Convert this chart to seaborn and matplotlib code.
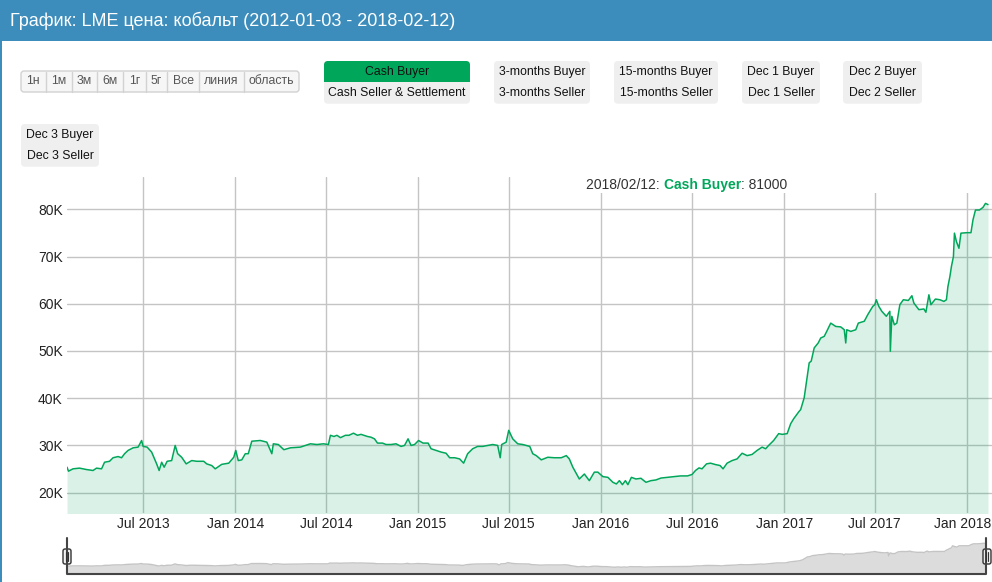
import matplotlib
matplotlib.use("Agg")
import matplotlib.pyplot as plt
import matplotlib.dates as mdates
from matplotlib.patches import Rectangle, FancyBboxPatch
from matplotlib.ticker import FuncFormatter
import pandas as pd
import seaborn as sns

# LME cobalt, cash buyer (USD/t)
dates = [
    "2013-01-30", "2013-02-02", "2013-02-11", "2013-02-24", "2013-03-10", "2013-03-23",
    "2013-03-30", "2013-04-09", "2013-04-15", "2013-04-25", "2013-05-02", "2013-05-12",
    "2013-05-19", "2013-05-25", "2013-06-01", "2013-06-11", "2013-06-21", "2013-06-28",
    "2013-07-01", "2013-07-09", "2013-07-18", "2013-07-28", "2013-08-02", "2013-08-07",
    "2013-08-12", "2013-08-18", "2013-08-27", "2013-09-03", "2013-09-08", "2013-09-16",
    "2013-09-25", "2013-10-06", "2013-10-16", "2013-10-30", "2013-11-05", "2013-11-15",
    "2013-11-22", "2013-12-05", "2013-12-19", "2013-12-29", "2014-01-02", "2014-01-07",
    "2014-01-14", "2014-01-21", "2014-01-27", "2014-02-03", "2014-02-20", "2014-03-05",
    "2014-03-15", "2014-03-18", "2014-03-28", "2014-04-08", "2014-04-21", "2014-05-11",
    "2014-05-31", "2014-06-13", "2014-06-26", "2014-07-06", "2014-07-10", "2014-07-17",
    "2014-07-23", "2014-07-30", "2014-08-09", "2014-08-16", "2014-08-25", "2014-09-02",
    "2014-09-09", "2014-09-15", "2014-09-22", "2014-09-29", "2014-10-06", "2014-10-12",
    "2014-10-22", "2014-10-29", "2014-11-08", "2014-11-18", "2014-11-28", "2014-12-05",
    "2014-12-12", "2014-12-18", "2014-12-25", "2015-01-02", "2015-01-11", "2015-01-21",
    "2015-01-27", "2015-02-06", "2015-02-16", "2015-02-26", "2015-03-05", "2015-03-15",
    "2015-03-25", "2015-04-02", "2015-04-10", "2015-04-20", "2015-04-30", "2015-05-10",
    "2015-05-20", "2015-05-30", "2015-06-09", "2015-06-14", "2015-06-17", "2015-06-26",
    "2015-07-01", "2015-07-09", "2015-07-19", "2015-07-29", "2015-08-12", "2015-08-18",
    "2015-08-25", "2015-09-04", "2015-09-17", "2015-09-30", "2015-10-14", "2015-10-24",
    "2015-10-30", "2015-11-06", "2015-11-19", "2015-11-29", "2015-12-09", "2015-12-19",
    "2015-12-26", "2016-01-05", "2016-01-15", "2016-01-25", "2016-02-01", "2016-02-07",
    "2016-02-13", "2016-02-19", "2016-02-24", "2016-03-02", "2016-03-11", "2016-03-21",
    "2016-03-31", "2016-04-10", "2016-04-20", "2016-04-30", "2016-05-13", "2016-05-26",
    "2016-06-08", "2016-06-22", "2016-07-01", "2016-07-08", "2016-07-15", "2016-07-21",
    "2016-07-30", "2016-08-07", "2016-08-17", "2016-08-26", "2016-09-01", "2016-09-09",
    "2016-09-19", "2016-09-29", "2016-10-09", "2016-10-19", "2016-10-29", "2016-11-08",
    "2016-11-18", "2016-11-25", "2016-12-01", "2016-12-11", "2016-12-21", "2016-12-28",
    "2017-01-07", "2017-01-14", "2017-01-20", "2017-01-30", "2017-02-03", "2017-02-10",
    "2017-02-20", "2017-02-24", "2017-03-02", "2017-03-10", "2017-03-15", "2017-03-22",
    "2017-03-27", "2017-04-04", "2017-04-14", "2017-04-24", "2017-05-01", "2017-05-04",
    "2017-05-06", "2017-05-14", "2017-05-24", "2017-05-29", "2017-06-10", "2017-06-17",
    "2017-06-27", "2017-07-01", "2017-07-04", "2017-07-09", "2017-07-15", "2017-07-24",
    "2017-07-31", "2017-08-01", "2017-08-04", "2017-08-09", "2017-08-14", "2017-08-20",
    "2017-08-27", "2017-09-06", "2017-09-13", "2017-09-17", "2017-09-27", "2017-10-07",
    "2017-10-11", "2017-10-17", "2017-10-21", "2017-10-30", "2017-11-08", "2017-11-16",
    "2017-11-21", "2017-11-24", "2017-11-28", "2017-12-01", "2017-12-05", "2017-12-07",
    "2017-12-11", "2017-12-16", "2017-12-20", "2018-01-01", "2018-01-09", "2018-01-13",
    "2018-01-18", "2018-01-26", "2018-02-02", "2018-02-07", "2018-02-12",
]
cash_buyer = [
    25400, 24550, 25050, 25200, 24900, 24700,
    25200, 25050, 26450, 26650, 27400, 27650,
    27400, 28250, 28950, 29500, 29650, 31050,
    29800, 29650, 28600, 26100, 24700, 26450,
    25400, 26650, 26800, 30000, 28250, 27500,
    26100, 26800, 26650, 26650, 26100, 25750,
    25050, 26000, 26250, 27500, 28950, 26800,
    26950, 28250, 28250, 30900, 31050, 30700,
    28250, 30350, 30200, 29100, 29500, 29650,
    30350, 30200, 30350, 30200, 32150, 31900,
    32150, 31650, 32150, 32150, 32600, 32150,
    32350, 32150, 31900, 31750, 31400, 30500,
    30500, 30200, 30200, 30350, 29800, 30000,
    31400, 30000, 30200, 31050, 30500, 30500,
    29300, 28950, 28600, 28350, 27400, 27400,
    27150, 26250, 28250, 29300, 29800, 29800,
    30000, 30200, 30000, 27400, 30200, 30700,
    33200, 31400, 30350, 30200, 29800, 28250,
    27850, 26950, 27500, 27400, 27400, 27850,
    27150, 25400, 22900, 23950, 22550, 24350,
    24350, 23400, 23250, 22200, 21850, 22550,
    21700, 22550, 21700, 23250, 22900, 23050,
    22200, 22550, 22700, 23100, 23250, 23400,
    23550, 23550, 23850, 24700, 25250, 25050,
    26100, 26250, 25950, 25750, 25050, 26250,
    26800, 27150, 28350, 27850, 28100, 28950,
    29650, 29300, 30000, 31050, 32500, 32350,
    32500, 34600, 35650, 37100, 37600, 40100,
    47500, 47850, 50650, 51700, 52750, 53100,
    54150, 55900, 55200, 55100, 54500, 51700,
    54500, 54150, 54500, 55900, 56300, 57700,
    59450, 59800, 60850, 59450, 58400, 57350,
    58400, 49950, 57350, 55550, 55900, 59800,
    60850, 60700, 61700, 60150, 58750, 58900,
    58200, 61900, 59800, 61000, 60850, 60500,
    60850, 63650, 65800, 67900, 70000, 74950,
    73150, 71750, 74950, 75050, 75050, 77750,
    79850, 79850, 80400, 81250, 81000,
]

title = "График: LME цена: кобальт (2012-01-03 - 2018-02-12)"
range_labels = ["1н", "1м", "3м", "6м", "1г", "5г", "Все", "линия", "область"]
series_buttons = [
    ("Cash Buyer", "Cash Seller & Settlement"),
    ("3-months Buyer", "3-months Seller"),
    ("15-months Buyer", "15-months Seller"),
    ("Dec 1 Buyer", "Dec 1 Seller"),
    ("Dec 2 Buyer", "Dec 2 Seller"),
    ("Dec 3 Buyer", "Dec 3 Seller"),
]
tip_date = "2018/02/12"
tip_series = "Cash Buyer"
tip_value = 81000

GREEN = "#00a65a"
BLUE = "#3c8dbc"
TXT = "#333333"

df = pd.DataFrame({"date": pd.to_datetime(dates), "price": cash_buyer})

sns.set_theme(style="white")
plt.rcParams["font.family"] = ["Liberation Sans", "DejaVu Sans"]

W, H = 992, 582
fig = plt.figure(figsize=(W / 100, H / 100), dpi=100)


def px_axes(x0, y0, x1, y1, **kw):
    # axes placed by pixel box (top-left origin)
    return fig.add_axes([x0 / W, 1 - y1 / H, (x1 - x0) / W, (y1 - y0) / H], **kw)


# main chart
ax = px_axes(67, 177, 992, 513)
ax.set_axisbelow(True)
ax.grid(True, color="#c4c4c4", lw=1)
ax.fill_between(df["date"], df["price"], 0, color=GREEN, alpha=0.15, lw=0)
sns.lineplot(data=df, x="date", y="price", ax=ax, color=GREEN, lw=1.1)
ax.set_xlim(pd.Timestamp("2013-01-30"), pd.Timestamp("2018-02-20"))
ax.set_ylim(15700, 86840)
ax.set_yticks(range(20000, 80001, 10000))
ax.yaxis.set_major_formatter(FuncFormatter(lambda v, p: f"{int(v / 1000)}K"))
ax.xaxis.set_major_locator(mdates.MonthLocator(bymonth=[1, 7]))
ax.set_xlabel("")
ax.set_ylabel("")
for s in ax.spines.values():
    s.set_visible(False)
ax.tick_params(length=0, labelsize=10, colors="#222222", pad=3, labelbottom=False)

# x labels drawn by hand so the last one can be nudged inside the frame
tick_dates = pd.date_range("2013-07-01", "2018-01-01", freq="6MS")
for i, d in enumerate(tick_dates):
    dx = -3 if i == len(tick_dates) - 1 else 0
    ax.annotate(d.strftime("%b %Y"), xy=(mdates.date2num(d), 0), xycoords=ax.get_xaxis_transform(),
                xytext=(dx, -3), textcoords="offset points", ha="center", va="top",
                fontsize=10, color="#222222", annotation_clip=False)

# navigator
nav = px_axes(67, 538, 986, 574)
nav.fill_between(df["date"], df["price"], 0, color="#dcdcdc", lw=0)
nav.plot(df["date"], df["price"], color="#c4c4c4", lw=1)
nav.set_xlim(df["date"].min(), df["date"].max())
nav.set_ylim(5000, 94300)
nav.axis("off")

# overlay in pixel coordinates for the page furniture
ov = fig.add_axes([0, 0, 1, 1], zorder=10)
ov.set_xlim(0, W)
ov.set_ylim(H, 0)
ov.axis("off")
ov.patch.set_visible(False)

ov.add_patch(Rectangle((0, 0), W, 40.5, color=BLUE, lw=0))
ov.add_patch(Rectangle((0, 40), 1.6, H - 40, color=BLUE, lw=0))
ov.text(10, 21, title, color="white", fontsize=13, va="center", ha="left")

# range selector
edges = [21, 45.7, 71.7, 97.3, 123.3, 145.7, 167.3, 199.3, 243.7, 299]
ov.add_patch(FancyBboxPatch((21, 71), 278, 21, boxstyle="round,pad=0,rounding_size=3",
                            fc="#f6f6f6", ec="#d2d2d2", lw=1))
for i, lab in enumerate(range_labels):
    if i > 0:
        ov.plot([edges[i], edges[i]], [71.5, 91.5], color="#d2d2d2", lw=1)
    ov.text((edges[i] + edges[i + 1]) / 2, 81.5, lab, fontsize=8.8, color="#555555",
            ha="center", va="center")

# series toggle buttons
boxes = [(324, 470, 61), (494, 590, 61), (614, 718, 61), (742, 820, 61), (843, 922, 61), (21, 99, 124)]
for (top, bot), (x0, x1, y0) in zip(series_buttons, boxes):
    ov.add_patch(FancyBboxPatch((x0, y0), x1 - x0, 42.7, boxstyle="round,pad=0,rounding_size=4",
                                fc="#efefef", ec="none"))
    if top == tip_series:
        ov.add_patch(FancyBboxPatch((x0, y0), x1 - x0, 25, boxstyle="round,pad=0,rounding_size=4",
                                    fc=GREEN, ec="none"))
        ov.add_patch(Rectangle((x0, y0 + 21), x1 - x0, 8, fc="#efefef", ec="none"))
    cx = (x0 + x1) / 2
    ov.text(cx, y0 + 11, top, fontsize=8.8, color="#111111", ha="center", va="center")
    ov.text(cx, y0 + 32, bot, fontsize=8.8, color="#111111", ha="center", va="center")

# tooltip line above the plot
ov.add_patch(Rectangle((570, 176), W - 570, 17, fc="white", ec="none"))
t1 = ov.text(586, 185, f"{tip_date}: ", fontsize=10, color=TXT, ha="left", va="center")
t2 = ov.annotate(tip_series, xy=(1, 0), xycoords=t1, fontsize=10, color=GREEN,
                 weight="bold", ha="left", va="bottom")
ov.annotate(f": {tip_value}", xy=(1, 0), xycoords=t2, fontsize=10, color=TXT,
            ha="left", va="bottom")

# navigator outline and handles
ov.plot([67, 67, 986, 986], [538, 574, 574, 538], color="#444444", lw=1.5)
for hx in (67, 987):
    ov.add_patch(FancyBboxPatch((hx - 4, 549), 8, 15, boxstyle="round,pad=0,rounding_size=2",
                                fc="#f2f2f2", ec="#333333", lw=1))
    ov.plot([hx - 1.2, hx - 1.2], [552, 561], color="#333333", lw=0.8)
    ov.plot([hx + 1.2, hx + 1.2], [552, 561], color="#333333", lw=0.8)

fig.savefig("out.png", dpi=100)
